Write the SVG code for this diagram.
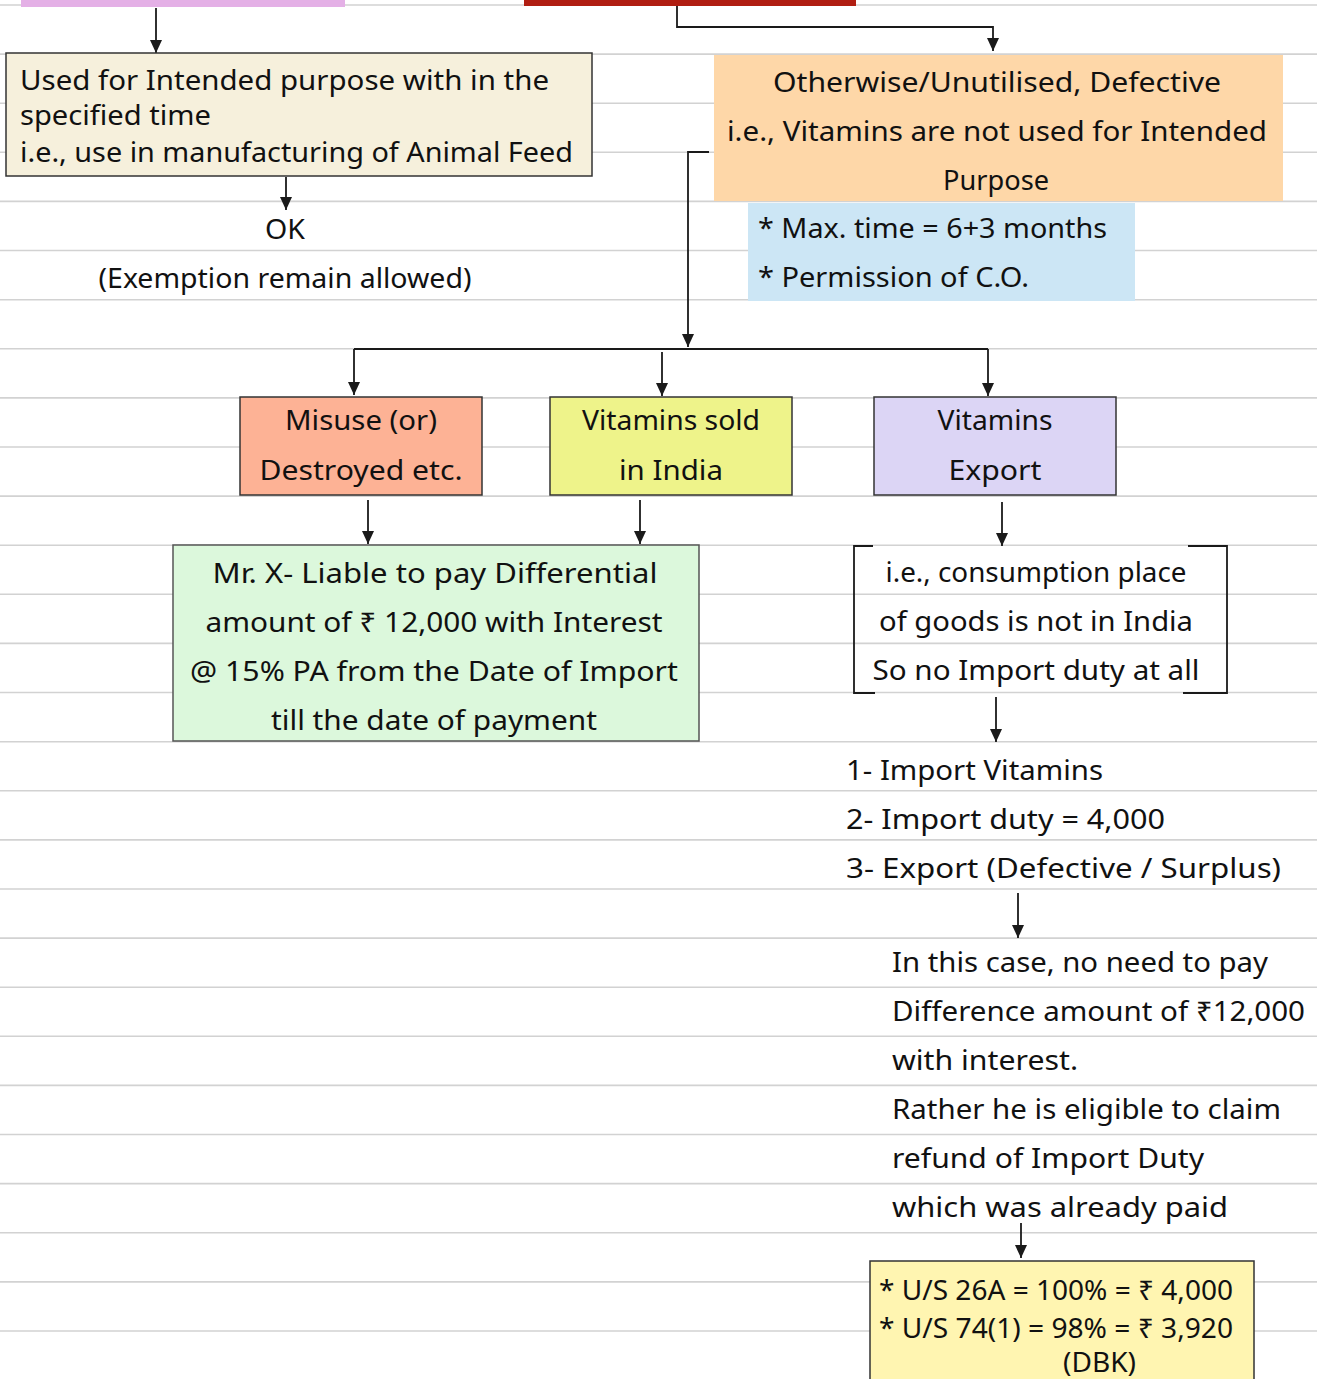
<svg xmlns="http://www.w3.org/2000/svg" width="1317" height="1379" viewBox="0 0 1317 1379">
<defs>
<marker id="ah" viewBox="0 0 13 12" refX="13" refY="6" markerWidth="13" markerHeight="12" markerUnits="userSpaceOnUse" orient="auto">
<path d="M0,0 L13,6 L0,12 z" fill="#1a1a1a"/>
</marker>
<style>
.rule{stroke:#d2d2d2;stroke-width:1.6}
.t{font-family:"Noto Sans","DejaVu Sans",sans-serif;font-size:27px;fill:#111}
.c{text-anchor:middle}
.box{stroke:#333;stroke-width:1.5}
.con{fill:none;stroke:#1a1a1a;stroke-width:1.8}
.arr{fill:none;stroke:#1a1a1a;stroke-width:1.8;marker-end:url(#ah)}
</style>
</defs>
<rect width="1317" height="1379" fill="#ffffff"/>
<g id="rules">
<line class="rule" x1="0" y1="5" x2="1317" y2="5"/>
<line class="rule" x1="0" y1="54.1" x2="1317" y2="54.1"/>
<line class="rule" x1="0" y1="103.2" x2="1317" y2="103.2"/>
<line class="rule" x1="0" y1="152.3" x2="1317" y2="152.3"/>
<line class="rule" x1="0" y1="201.4" x2="1317" y2="201.4"/>
<line class="rule" x1="0" y1="250.5" x2="1317" y2="250.5"/>
<line class="rule" x1="0" y1="299.7" x2="1317" y2="299.7"/>
<line class="rule" x1="0" y1="348.8" x2="1317" y2="348.8"/>
<line class="rule" x1="0" y1="397.9" x2="1317" y2="397.9"/>
<line class="rule" x1="0" y1="447" x2="1317" y2="447"/>
<line class="rule" x1="0" y1="496.1" x2="1317" y2="496.1"/>
<line class="rule" x1="0" y1="545.2" x2="1317" y2="545.2"/>
<line class="rule" x1="0" y1="594.3" x2="1317" y2="594.3"/>
<line class="rule" x1="0" y1="643.4" x2="1317" y2="643.4"/>
<line class="rule" x1="0" y1="692.5" x2="1317" y2="692.5"/>
<line class="rule" x1="0" y1="741.7" x2="1317" y2="741.7"/>
<line class="rule" x1="0" y1="790.8" x2="1317" y2="790.8"/>
<line class="rule" x1="0" y1="839.9" x2="1317" y2="839.9"/>
<line class="rule" x1="0" y1="889" x2="1317" y2="889"/>
<line class="rule" x1="0" y1="938.1" x2="1317" y2="938.1"/>
<line class="rule" x1="0" y1="987.2" x2="1317" y2="987.2"/>
<line class="rule" x1="0" y1="1036.3" x2="1317" y2="1036.3"/>
<line class="rule" x1="0" y1="1085.4" x2="1317" y2="1085.4"/>
<line class="rule" x1="0" y1="1134.5" x2="1317" y2="1134.5"/>
<line class="rule" x1="0" y1="1183.6" x2="1317" y2="1183.6"/>
<line class="rule" x1="0" y1="1232.8" x2="1317" y2="1232.8"/>
<line class="rule" x1="0" y1="1281.9" x2="1317" y2="1281.9"/>
<line class="rule" x1="0" y1="1331" x2="1317" y2="1331"/>
</g>

<g id="connectors">
<line class="arr" x1="156" y1="8" x2="156" y2="53"/>
<polyline class="arr" points="677,6 677,27 993,27 993,51"/>
<line class="arr" x1="286" y1="177" x2="286" y2="210"/>
<polyline class="arr" points="709,152 688,152 688,347"/>
<line class="con" x1="354" y1="349" x2="988" y2="349"/>
<line class="arr" x1="354" y1="349" x2="354" y2="395"/>
<line class="arr" x1="662" y1="352" x2="662" y2="396"/>
<line class="arr" x1="988" y1="349" x2="988" y2="396"/>
<line class="arr" x1="368" y1="500" x2="368" y2="544"/>
<line class="arr" x1="640" y1="500" x2="640" y2="544"/>
<line class="arr" x1="1002" y1="502" x2="1002" y2="546"/>
<line class="arr" x1="996" y1="697" x2="996" y2="742"/>
<line class="arr" x1="1018" y1="893" x2="1018" y2="938"/>
<line class="arr" x1="1021" y1="1223" x2="1021" y2="1258"/>
</g>

<g id="top-bars">
<rect x="21" y="0" width="324" height="7" fill="#e4b0e6"/>
<rect x="524" y="0" width="332" height="6" fill="#b01e12"/>
</g>

<g id="node-intended">
<rect class="box" x="6" y="53" width="586" height="123" fill="#f6f0dc"/>
<text class="t" x="20" y="90" textLength="529" lengthAdjust="spacingAndGlyphs">Used for Intended purpose with in the</text>
<text class="t" x="20" y="125" textLength="191" lengthAdjust="spacingAndGlyphs">specified time</text>
<text class="t" x="20" y="162" textLength="553" lengthAdjust="spacingAndGlyphs">i.e., use in manufacturing of Animal Feed</text>
</g>

<g id="node-ok">
<text class="t c" x="285" y="239" textLength="40" lengthAdjust="spacingAndGlyphs">OK</text>
<text class="t c" x="285" y="288" textLength="373" lengthAdjust="spacingAndGlyphs">(Exemption remain allowed)</text>
</g>

<g id="node-otherwise">
<rect x="714" y="55" width="569" height="146" fill="#fed7a8"/>
<text class="t c" x="997" y="92" textLength="448" lengthAdjust="spacingAndGlyphs">Otherwise/Unutilised, Defective</text>
<text class="t c" x="997" y="141" textLength="540" lengthAdjust="spacingAndGlyphs">i.e., Vitamins are not used for Intended</text>
<text class="t c" x="996" y="190" textLength="106" lengthAdjust="spacingAndGlyphs">Purpose</text>
</g>

<g id="node-conditions">
<rect x="748" y="203" width="387" height="98" fill="#cce6f5"/>
<text class="t" x="758" y="238" textLength="349" lengthAdjust="spacingAndGlyphs">* Max. time = 6+3 months</text>
<text class="t" x="758" y="287" textLength="271" lengthAdjust="spacingAndGlyphs">* Permission of C.O.</text>
</g>

<g id="node-misuse">
<rect class="box" x="240" y="397" width="242" height="98" fill="#fdb295"/>
<text class="t c" x="361" y="430" textLength="152" lengthAdjust="spacingAndGlyphs">Misuse (or)</text>
<text class="t c" x="361" y="480" textLength="203" lengthAdjust="spacingAndGlyphs">Destroyed etc.</text>
</g>

<g id="node-sold">
<rect class="box" x="550" y="397" width="242" height="98" fill="#eef38a"/>
<text class="t c" x="671" y="430" textLength="178" lengthAdjust="spacingAndGlyphs">Vitamins sold</text>
<text class="t c" x="671" y="480" textLength="104" lengthAdjust="spacingAndGlyphs">in India</text>
</g>

<g id="node-export">
<rect class="box" x="874" y="397" width="242" height="98" fill="#dcd5f5"/>
<text class="t c" x="995" y="430" textLength="115" lengthAdjust="spacingAndGlyphs">Vitamins</text>
<text class="t c" x="995" y="480" textLength="93" lengthAdjust="spacingAndGlyphs">Export</text>
</g>

<g id="node-liable">
<rect x="173" y="545" width="526" height="196" fill="#dcf8dc" stroke="#555" stroke-width="1.5"/>
<text class="t c" x="435" y="583" textLength="445" lengthAdjust="spacingAndGlyphs">Mr. X- Liable to pay Differential</text>
<text class="t c" x="434" y="632" textLength="457" lengthAdjust="spacingAndGlyphs">amount of ₹ 12,000 with Interest</text>
<text class="t c" x="434" y="681" textLength="488" lengthAdjust="spacingAndGlyphs">@ 15% PA from the Date of Import</text>
<text class="t c" x="434" y="730" textLength="326" lengthAdjust="spacingAndGlyphs">till the date of payment</text>
</g>

<g id="node-consumption">
<polyline class="con" points="873,546 854,546 854,693 875,693"/>
<polyline class="con" points="1188,546 1227,546 1227,693 1183,693"/>
<text class="t c" x="1036" y="582" textLength="301" lengthAdjust="spacingAndGlyphs">i.e., consumption place</text>
<text class="t c" x="1036" y="631" textLength="314" lengthAdjust="spacingAndGlyphs">of goods is not in India</text>
<text class="t c" x="1036" y="680" textLength="327" lengthAdjust="spacingAndGlyphs">So no Import duty at all</text>
</g>

<g id="node-steps">
<text class="t" x="846" y="780" textLength="257" lengthAdjust="spacingAndGlyphs">1- Import Vitamins</text>
<text class="t" x="846" y="829" textLength="319" lengthAdjust="spacingAndGlyphs">2- Import duty = 4,000</text>
<text class="t" x="846" y="878" textLength="435" lengthAdjust="spacingAndGlyphs">3- Export (Defective / Surplus)</text>
</g>

<g id="node-refund">
<text class="t" x="892" y="972" textLength="376" lengthAdjust="spacingAndGlyphs">In this case, no need to pay</text>
<text class="t" x="892" y="1021" textLength="413" lengthAdjust="spacingAndGlyphs">Difference amount of ₹12,000</text>
<text class="t" x="892" y="1070" textLength="186" lengthAdjust="spacingAndGlyphs">with interest.</text>
<text class="t" x="892" y="1119" textLength="389" lengthAdjust="spacingAndGlyphs">Rather he is eligible to claim</text>
<text class="t" x="892" y="1168" textLength="312" lengthAdjust="spacingAndGlyphs">refund of Import Duty</text>
<text class="t" x="892" y="1217" textLength="336" lengthAdjust="spacingAndGlyphs">which was already paid</text>
</g>

<g id="node-sections">
<rect class="box" x="870" y="1261" width="384" height="130" fill="#fff5b1"/>
<text class="t" x="879" y="1300" textLength="354" lengthAdjust="spacingAndGlyphs">* U/S 26A = 100% = ₹ 4,000</text>
<text class="t" x="879" y="1338" textLength="354" lengthAdjust="spacingAndGlyphs">* U/S 74(1) = 98% = ₹ 3,920</text>
<text class="t" x="1063" y="1372" textLength="73" lengthAdjust="spacingAndGlyphs">(DBK)</text>
</g>
</svg>
